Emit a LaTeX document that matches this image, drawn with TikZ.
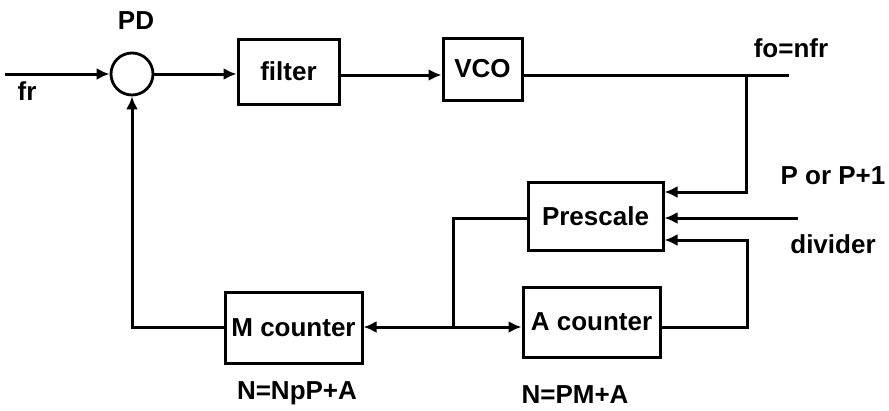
\documentclass[tikz,border=0pt]{standalone}
\usepackage{fontspec}
\setmainfont{Liberation Sans}
\usetikzlibrary{arrows.meta,calc}
\begin{document}
\begin{tikzpicture}[x=1pt,y=-1pt,
  every node/.style={font=\fontsize{26}{29}\selectfont\bfseries},
  blk/.style={draw,line width=3pt,rectangle,inner sep=0pt},
  wire/.style={line width=3pt},
  arr/.style={wire,-{Latex[length=13pt,width=12pt]}}]
\useasboundingbox (0,0) rectangle (889,410);
% blocks
\node[draw,circle,line width=2.8pt,minimum size=42pt,inner sep=0pt] (pd) at (132,74) {};
\node[blk,minimum width=101pt,minimum height=65pt] (filter) at (288.5,71.5) {filter};
\node[blk,minimum width=79pt,minimum height=62pt] (vco) at (482.5,69) {VCO};
\node[blk,minimum width=135pt,minimum height=68pt] (pre) at (595.5,216) {Prescale};
\node[blk,minimum width=137pt,minimum height=71pt] (mc) at (293.5,327.5) {M counter};
\node[blk,minimum width=137pt,minimum height=70pt] (ac) at (591.5,322) {A counter};
% labels
\node (lpd) at (136,21) {PD};
\node (lfr) at (27,91) {fr};
\node (lfo) at (791,48) {fo=nfr};
\node (lp) at (833,176) {P or P+1};
\node (ldiv) at (833,244) {divider};
\node (ln1) at (297,393) {N=NpP+A};
\node (ln2) at (575,395) {N=PM+A};
% coordinates
\coordinate (in) at (5,74);
\coordinate (row) at (0,75);
\coordinate (out) at (789,75);
\coordinate (br) at (746,75);
\coordinate (ctl) at (798,218);
\coordinate (ra) at (747,327);
\coordinate (jn) at (453,327);
% connectors
\draw[arr] (in) -- (pd.west);
\draw[arr] (pd.east) -- (pd.east -| filter.west);
\draw[arr] (filter.east |- row) -- (vco.west |- row);
\draw[wire] (vco.east |- row) -- (out);
\draw[arr] (br) |- ([yshift=24pt]pre.east);
\draw[arr] (ctl) -- (ctl -| pre.east);
\draw[arr] ([yshift=-5pt]ac.east) -- (ra) |- ([yshift=-24pt]pre.east);
\draw[wire] ([yshift=-2pt]pre.west) -| (jn);
\draw[arr] (jn) -- (jn -| mc.east);
\draw[arr] (jn) -- (jn -| ac.west);
\draw[arr] (mc.west) -| (pd.south);
\end{tikzpicture}
\end{document}
